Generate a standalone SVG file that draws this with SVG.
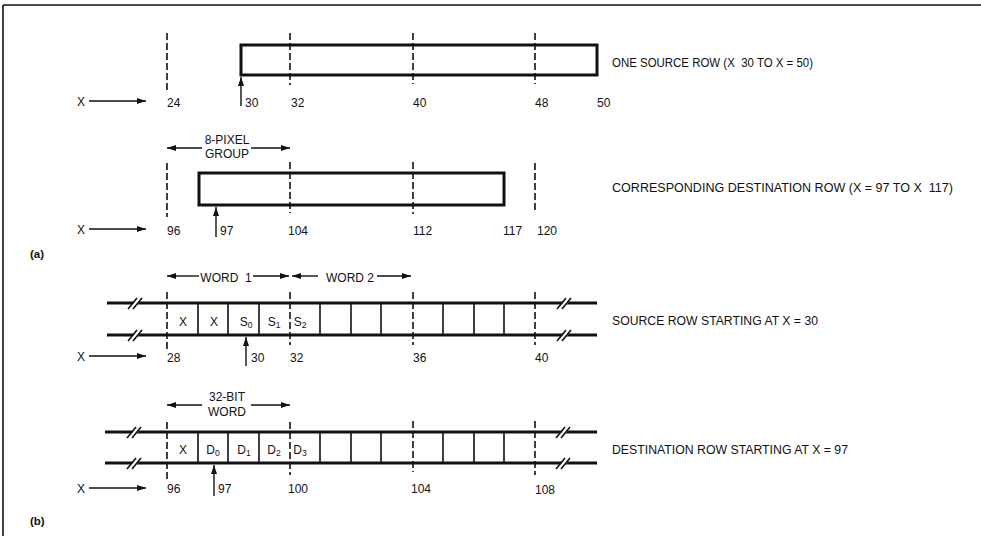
<svg xmlns="http://www.w3.org/2000/svg" width="981" height="536" viewBox="0 0 981 536">
<defs>
<marker id="ah" viewBox="0 0 9 6" refX="9" refY="3" markerWidth="9" markerHeight="6" markerUnits="userSpaceOnUse" orient="auto"><path d="M0,0 L9,3 L0,6 z" fill="#111"/></marker>
<style>
text{font-family:"Liberation Sans",Arial,sans-serif;font-size:12px;fill:#111}
.b{font-weight:bold;font-size:11.5px}
.c{text-anchor:middle}
.sub{font-size:8.5px}
.dash{stroke:#111;stroke-width:1.6;stroke-dasharray:7 3;fill:none}
.thick{stroke:#111;stroke-width:3;fill:none}
.thin{stroke:#111;stroke-width:1.6;fill:none}
.arr{stroke:#111;stroke-width:1.4;fill:none;marker-end:url(#ah)}
.brk{stroke:#111;stroke-width:1.6}
.gap{fill:#fff}
</style>
</defs>
<rect width="981" height="536" fill="#fff"/>
<g id="frame">
<line x1="3" y1="5" x2="981" y2="5" class="thin"/>
<line x1="3" y1="5" x2="3" y2="536" class="thin"/>
</g>

<g id="a-source-row">
<rect x="241" y="45" width="356" height="30" class="thick"/>
<line x1="167" y1="33" x2="167" y2="93" class="dash"/>
<line x1="290" y1="33" x2="290" y2="85" class="dash"/>
<line x1="413" y1="33" x2="413" y2="84" class="dash"/>
<line x1="535" y1="33" x2="535" y2="84" class="dash"/>
<text x="77" y="106">X</text>
<text x="167" y="107">24</text>
<text x="245" y="107">30</text>
<text x="291" y="107">32</text>
<text x="413" y="107">40</text>
<text x="535" y="107">48</text>
<text x="597" y="107">50</text>
<text x="612" y="67" textLength="201" lengthAdjust="spacingAndGlyphs" xml:space="preserve">ONE SOURCE ROW (X  30 TO X = 50)</text>
</g>

<g id="a-dest-row">
<rect x="199" y="173" width="305" height="32" class="thick"/>
<line x1="167" y1="163" x2="167" y2="217" class="dash"/>
<line x1="290" y1="162" x2="290" y2="213" class="dash"/>
<line x1="413" y1="162" x2="413" y2="214" class="dash"/>
<line x1="535" y1="163" x2="535" y2="213" class="dash"/>
<text x="227" y="144" class="c">8-PIXEL</text>
<text x="227" y="158" class="c">GROUP</text>
<text x="77" y="234">X</text>
<text x="167" y="235">96</text>
<text x="220" y="235">97</text>
<text x="288" y="235">104</text>
<text x="413" y="235">112</text>
<text x="503" y="235">117</text>
<text x="537" y="235">120</text>
<text x="612" y="192" textLength="341" lengthAdjust="spacingAndGlyphs" xml:space="preserve">CORRESPONDING DESTINATION ROW (X = 97 TO X  117)</text>
<text x="30" y="258" class="b">(a)</text>
</g>

<g id="b-source-row">
<line x1="107" y1="303" x2="597" y2="303" class="thick"/>
<line x1="107" y1="335" x2="597" y2="335" class="thick"/>
<path d="M198,303V335M228,303V335M259,303V335M320,303V335M351,303V335M381,303V335M443,303V335M474,303V335M504,303V335" class="thin"/>
<line x1="167" y1="292" x2="167" y2="350" class="dash"/>
<line x1="290" y1="292" x2="290" y2="345" class="dash"/>
<line x1="413" y1="292" x2="413" y2="345" class="dash"/>
<line x1="535" y1="292" x2="535" y2="345" class="dash"/>
<polygon points="129,309 137,299 142,299 134,309" class="gap"/>
<polygon points="129,341 137,331 142,331 134,341" class="gap"/>
<polygon points="558,309 566,299 571,299 563,309" class="gap"/>
<polygon points="558,341 566,331 571,331 563,341" class="gap"/>
<path d="M128,309L137,298M133,309L142,298M128,341L137,330M133,341L142,330M557,309L566,298M562,309L571,298M557,341L566,330M562,341L571,330" class="brk"/>
<text x="183" y="326" class="c">X</text>
<text x="214" y="326" class="c">X</text>
<text x="246" y="326" class="c">S<tspan class="sub" dy="2">0</tspan></text>
<text x="274" y="326" class="c">S<tspan class="sub" dy="2">1</tspan></text>
<text x="300" y="326" class="c">S<tspan class="sub" dy="2">2</tspan></text>
<text x="226" y="282" class="c" xml:space="preserve">WORD  1</text>
<text x="350" y="282" class="c">WORD 2</text>
<text x="77" y="361">X</text>
<text x="167" y="362">28</text>
<text x="251" y="362">30</text>
<text x="290" y="362">32</text>
<text x="413" y="362">36</text>
<text x="535" y="362">40</text>
<text x="612" y="325" textLength="206" lengthAdjust="spacingAndGlyphs">SOURCE ROW STARTING AT X = 30</text>
</g>

<g id="b-dest-row">
<line x1="105" y1="432" x2="597" y2="432" class="thick"/>
<line x1="105" y1="463" x2="597" y2="463" class="thick"/>
<path d="M198,432V463M228,432V463M259,432V463M320,432V463M351,432V463M381,432V463M443,432V463M474,432V463M504,432V463" class="thin"/>
<line x1="167" y1="422" x2="167" y2="482" class="dash"/>
<line x1="290" y1="422" x2="290" y2="475" class="dash"/>
<line x1="413" y1="421" x2="413" y2="472" class="dash"/>
<line x1="535" y1="421" x2="535" y2="475" class="dash"/>
<polygon points="128,438 136,428 141,428 133,438" class="gap"/>
<polygon points="128,469 136,459 141,459 133,469" class="gap"/>
<polygon points="557,438 565,428 570,428 562,438" class="gap"/>
<polygon points="557,469 565,459 570,459 562,469" class="gap"/>
<path d="M127,438L136,427M132,438L141,427M127,469L136,458M132,469L141,458M556,438L565,427M561,438L570,427M556,469L565,458M561,469L570,458" class="brk"/>
<text x="183" y="454" class="c">X</text>
<text x="213" y="454" class="c">D<tspan class="sub" dy="2">0</tspan></text>
<text x="244" y="454" class="c">D<tspan class="sub" dy="2">1</tspan></text>
<text x="274" y="454" class="c">D<tspan class="sub" dy="2">2</tspan></text>
<text x="300" y="454" class="c">D<tspan class="sub" dy="2">3</tspan></text>
<text x="227" y="401" class="c">32-BIT</text>
<text x="227" y="416" class="c">WORD</text>
<text x="77" y="493">X</text>
<text x="167" y="493">96</text>
<text x="218" y="493">97</text>
<text x="288" y="493">100</text>
<text x="411" y="493">104</text>
<text x="535" y="494">108</text>
<text x="612" y="454" textLength="236" lengthAdjust="spacingAndGlyphs">DESTINATION ROW STARTING AT X = 97</text>
<text x="30" y="525" class="b">(b)</text>
</g>

<g id="connectors">
<line x1="89" y1="101" x2="146" y2="101" class="arr"/>
<line x1="241" y1="106" x2="241" y2="77" class="arr"/>
<line x1="202" y1="148" x2="167" y2="148" class="arr"/>
<line x1="251" y1="148" x2="290" y2="148" class="arr"/>
<line x1="89" y1="229" x2="146" y2="229" class="arr"/>
<line x1="216" y1="237" x2="216" y2="207" class="arr"/>
<line x1="199" y1="276" x2="167" y2="276" class="arr"/>
<line x1="253" y1="276" x2="289" y2="276" class="arr"/>
<line x1="318" y1="276" x2="292" y2="276" class="arr"/>
<line x1="377" y1="276" x2="411" y2="276" class="arr"/>
<line x1="89" y1="356" x2="146" y2="356" class="arr"/>
<line x1="246" y1="366" x2="246" y2="337" class="arr"/>
<line x1="202" y1="405" x2="167" y2="405" class="arr"/>
<line x1="251" y1="405" x2="290" y2="405" class="arr"/>
<line x1="89" y1="488" x2="146" y2="488" class="arr"/>
<line x1="214" y1="496" x2="214" y2="465" class="arr"/>
</g>
</svg>
